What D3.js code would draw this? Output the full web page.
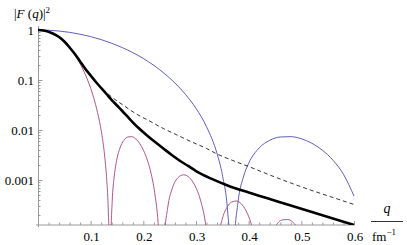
<!DOCTYPE html>
<html>
<head>
<meta charset="utf-8">
<script src="https://cdn.jsdelivr.net/npm/d3@7"></script>
<style>
  body { margin: 0; background: #fff; }
  svg text { font-family: "Liberation Serif", "Times New Roman", "DejaVu Serif", serif; fill: #000; }
</style>
</head>
<body>
<div id="chart"></div>
<script>
// Data: q in fm^-1, |F(q)|^2
var qBlue = [0, 0.02, 0.04, 0.06, 0.08, 0.10, 0.12, 0.14, 0.16, 0.18, 0.20, 0.22, 0.24, 0.26, 0.28, 0.30,
    0.32, 0.34, 0.35, 0.36, 0.365, 0.3683, 0.372, 0.38, 0.39, 0.40, 0.42, 0.44, 0.46, 0.48, 0.50, 0.52,
    0.54, 0.56, 0.58, 0.60];
var fBlue = [1, 0.988, 0.953, 0.898, 0.824, 0.738, 0.642, 0.543, 0.445, 0.353, 0.269, 0.196, 0.135, 0.0871,
    0.0516, 0.0270, 0.0116, 0.00335, 0.00127, 0.000239, 0.0000354, 1e-8, 0.0000403, 0.000375, 0.00115,
    0.00216, 0.00438, 0.00621, 0.00725, 0.00736, 0.00667, 0.00543, 0.00394, 0.00249, 0.00130, 0.000478];

var qPurple = [0, 0.0074, 0.0148, 0.0223, 0.0297, 0.0371, 0.0445, 0.0519, 0.0593, 0.0668, 0.0742, 0.0816,
    0.089, 0.0964, 0.1038, 0.1112, 0.1187, 0.1261, 0.1298, 0.1335, 0.1354, 0.1366, 0.1379, 0.1409, 0.1446,
    0.1483, 0.1557, 0.1632, 0.1706, 0.178, 0.1854, 0.1928, 0.2002, 0.2077, 0.2151, 0.2225, 0.228, 0.231,
    0.2348, 0.2401, 0.2462, 0.2553, 0.266, 0.2766, 0.2872, 0.2979, 0.3085, 0.3176, 0.3252, 0.3314, 0.3404,
    0.3495, 0.3587, 0.3678, 0.3769, 0.386, 0.3951, 0.4043, 0.4134, 0.4225, 0.4275, 0.4468, 0.4559, 0.465,
    0.4742, 0.4833, 0.4924, 0.5234, 0.6];
var fPurple = [1, 0.988, 0.953, 0.898, 0.824, 0.738, 0.642, 0.543, 0.445, 0.353, 0.269, 0.196, 0.135,
    0.0871, 0.0516, 0.0270, 0.0116, 0.00335, 0.00127, 0.000239, 0.0000354, 1e-8, 0.0000403, 0.000375,
    0.00115, 0.00216, 0.00438, 0.00621, 0.00725, 0.00736, 0.00667, 0.00543, 0.00394, 0.00249, 0.00130,
    0.000478, 0.000142, 0.000041, 1e-8, 0.0000687, 0.000276, 0.000697, 0.00112, 0.00127, 0.00112,
    0.000778, 0.000396, 0.000144, 0.000028, 1e-8, 0.0000483, 0.000161, 0.000282, 0.000363, 0.000380,
    0.000333, 0.000241, 0.000138, 0.000053, 0.0000066, 1e-8, 0.00009, 0.00014, 0.00016, 0.000162,
    0.000145, 0.000105, 1e-8, 0.00005];

var qDashed = [0, 0.01, 0.02, 0.03, 0.04, 0.05, 0.06, 0.07, 0.08, 0.09, 0.10, 0.11, 0.12, 0.13, 0.14, 0.15,
    0.16, 0.175, 0.19, 0.21, 0.238, 0.26, 0.29, 0.32, 0.34, 0.37, 0.40, 0.44, 0.48, 0.52, 0.56, 0.60];
var fDashed = [1, 0.977, 0.923, 0.832, 0.724, 0.589, 0.447, 0.331, 0.234, 0.166, 0.123, 0.0912, 0.0708,
    0.0562, 0.0457, 0.0380, 0.0324, 0.0251, 0.0200, 0.0155, 0.0107, 0.00832, 0.00589, 0.00427, 0.00331,
    0.00245, 0.00186, 0.00126, 0.000871, 0.000617, 0.000447, 0.000324];

var qBlack = [0, 0.01, 0.02, 0.03, 0.04, 0.05, 0.06, 0.07, 0.08, 0.09, 0.10, 0.11, 0.12, 0.13, 0.14, 0.15,
    0.16, 0.175, 0.19, 0.206, 0.22, 0.238, 0.254, 0.27, 0.285, 0.30, 0.33, 0.36, 0.40, 0.44, 0.48, 0.52,
    0.56, 0.60];
var fBlack = [1, 0.977, 0.923, 0.832, 0.724, 0.589, 0.447, 0.331, 0.234, 0.166, 0.123, 0.0912, 0.0692,
    0.0525, 0.0398, 0.0309, 0.0240, 0.0162, 0.0112, 0.00794, 0.00603, 0.00427, 0.00316, 0.0024, 0.00191,
    0.00151, 0.00105, 0.000776, 0.000562, 0.000417, 0.000309, 0.000229, 0.00017, 0.000126];

var xTicks = [0.1, 0.2, 0.3, 0.4, 0.5, 0.6];
var yTicks = [1, 0.1, 0.01, 0.001];
var yTickLabels = ["1", "0.1", "0.01", "0.001"];

var width = 407, height = 245;
var serif = "'Liberation Serif', 'Times New Roman', 'DejaVu Serif', serif";

var svg = d3.select("#chart").append("svg")
    .attr("width", width)
    .attr("height", height)
    .attr("font-family", serif);

var x = d3.scaleLinear().domain([0, 0.6]).range([38, 354]);
var y = d3.scaleLog().domain([Math.pow(10, -3.9), 1]).range([225, 30]);

var axisColor = "#9a9a9a";

svg.append("clipPath").attr("id", "plotClip")
    .append("rect")
    .attr("x", x(0)).attr("y", 0)
    .attr("width", x(0.6) - x(0) + 4)
    .attr("height", y.range()[0]);

// x axis with ticks pointing up
var xMinor = d3.range(0, 31).map(function (i) { return i * 0.02; });
var gx = svg.append("g").attr("class", "x-axis");
gx.append("line")
    .attr("x1", x(0) - 2).attr("x2", x(0.6) + 1)
    .attr("y1", y.range()[0]).attr("y2", y.range()[0])
    .attr("stroke", axisColor);
gx.selectAll(".minor").data(xMinor).enter().append("line")
    .attr("x1", function (d) { return x(d) + 0.5; })
    .attr("x2", function (d) { return x(d) + 0.5; })
    .attr("y1", y.range()[0])
    .attr("y2", function (d, i) { return y.range()[0] - (i % 5 === 0 ? 4 : 2.5); })
    .attr("stroke", axisColor);
gx.selectAll("text").data(xTicks).enter().append("text")
    .attr("x", function (d) { return x(d) + 1; })
    .attr("y", 241)
    .attr("text-anchor", "middle")
    .attr("font-size", "13px")
    .attr("font-family", serif)
    .text(function (d) { return d.toFixed(1); });

// y axis with ticks pointing right
var gy = svg.append("g").attr("class", "y-axis");
gy.append("line")
    .attr("x1", x(0) + 0.5).attr("x2", x(0) + 0.5)
    .attr("y1", y.range()[0] + 2).attr("y2", 26)
    .attr("stroke", axisColor);
gy.selectAll(".ytick").data(y.ticks()).enter().append("line")
    .attr("x1", x(0))
    .attr("x2", function (d) {
        var major = Math.abs(Math.log10(d) - Math.round(Math.log10(d))) < 1e-9;
        return x(0) + (major ? 4.5 : 2.5);
    })
    .attr("y1", function (d) { return Math.round(y(d)) + 0.5; })
    .attr("y2", function (d) { return Math.round(y(d)) + 0.5; })
    .attr("stroke", axisColor);
gy.selectAll("text").data(yTicks).enter().append("text")
    .attr("x", 34)
    .attr("y", function (d) { return y(d) + 4.5; })
    .attr("text-anchor", "end")
    .attr("font-size", "13px")
    .attr("font-family", serif)
    .text(function (d, i) { return yTickLabels[i]; });

// curves
var line = d3.line()
    .x(function (d) { return x(d[0]); })
    .y(function (d) { return y(d[1]); })
    .curve(d3.curveMonotoneX);

var plot = svg.append("g").attr("clip-path", "url(#plotClip)");

plot.append("path").datum(d3.zip(qBlue, fBlue))
    .attr("d", line).attr("fill", "none")
    .attr("stroke", "#4d4db0").attr("stroke-width", 0.9);

plot.append("path").datum(d3.zip(qPurple, fPurple))
    .attr("d", line).attr("fill", "none")
    .attr("stroke", "#a3447a").attr("stroke-width", 0.9);

plot.append("path").datum(d3.zip(qDashed, fDashed))
    .attr("d", line).attr("fill", "none")
    .attr("stroke", "#000").attr("stroke-width", 0.8)
    .attr("stroke-dasharray", "4,3");

plot.append("path").datum(d3.zip(qBlack, fBlack))
    .attr("d", line).attr("fill", "none")
    .attr("stroke", "#000").attr("stroke-width", 2.6);

// axis labels
var yLabel = svg.append("text")
    .attr("x", 14).attr("y", 18)
    .attr("font-size", "13px")
    .attr("font-family", serif);
yLabel.append("tspan").text("|");
yLabel.append("tspan").attr("font-style", "italic").text("F");
yLabel.append("tspan").text(" (");
yLabel.append("tspan").attr("font-style", "italic").text("q");
yLabel.append("tspan").text(")|");
yLabel.append("tspan").attr("font-size", "9px").attr("dy", -5).text("2");

svg.append("text")
    .attr("x", 387).attr("y", 213)
    .attr("text-anchor", "middle")
    .attr("font-size", "14px")
    .attr("font-style", "italic")
    .attr("font-family", serif)
    .text("q");
svg.append("line")
    .attr("x1", 371).attr("x2", 403)
    .attr("y1", 221.5).attr("y2", 221.5)
    .attr("stroke", "#000").attr("stroke-width", 0.8);
var unit = svg.append("text")
    .attr("x", 372).attr("y", 241)
    .attr("font-size", "13px")
    .attr("font-family", serif);
unit.append("tspan").text("fm");
unit.append("tspan").attr("font-size", "9px").attr("dy", -6).text("\u22121");
</script>
</body>
</html>
